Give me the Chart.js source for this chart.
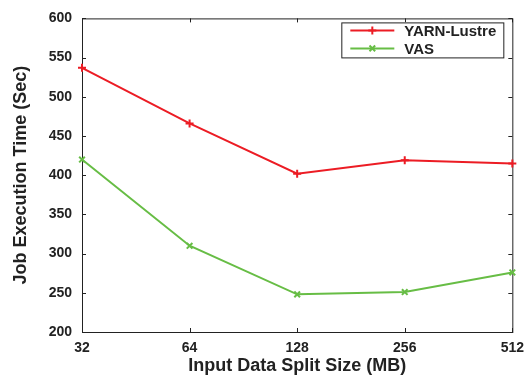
<!DOCTYPE html>
<html>
<head>
<meta charset="utf-8">
<script src="https://cdn.jsdelivr.net/npm/chart.js@4"></script>
<style>
  html, body { margin: 0; padding: 0; background: #fff; }
  #wrap { width: 532px; height: 378px; }
</style>
</head>
<body>
<div id="wrap"><canvas id="chart"></canvas></div>
<script>
// данные
const splitSizes = ['32', '64', '128', '256', '512'];
const yarnLustre = [537, 466, 402, 419, 415];
const vas = [420, 310, 248, 251, 276];
const yTicks = [200, 250, 300, 350, 400, 450, 500, 550, 600];

const INK = '#222';
const RED = '#ec1c24';
const GREEN = '#67bd45';
const FONT = 'Liberation Sans, Arial, Helvetica, sans-serif';

// рамка и засечки внутрь
const framePlugin = {
  id: 'frame',
  beforeDatasetsDraw(chart) {
    const { ctx, chartArea: a, scales } = chart;
    const tl = 4;
    ctx.save();
    ctx.strokeStyle = INK;
    ctx.lineWidth = 1;
    ctx.strokeRect(a.left + 0.5, a.top + 0.5, a.right - a.left, a.bottom - a.top);
    ctx.beginPath();
    yTicks.forEach(v => {
      const y = Math.round(scales.y.getPixelForValue(v)) + 0.5;
      ctx.moveTo(a.left, y); ctx.lineTo(a.left + tl, y);
      ctx.moveTo(a.right, y); ctx.lineTo(a.right - tl, y);
    });
    splitSizes.forEach((s, i) => {
      const x = Math.round(scales.x.getPixelForValue(i)) + 0.5;
      ctx.moveTo(x, a.bottom); ctx.lineTo(x, a.bottom - tl);
      ctx.moveTo(x, a.top); ctx.lineTo(x, a.top + tl);
    });
    ctx.stroke();
    ctx.restore();
  },
};

// легенда внутри графика
const legendPlugin = {
  id: 'boxLegend',
  afterDraw(chart) {
    const { ctx, chartArea: a } = chart;
    const w = 162, h = 35;
    const x0 = a.right - 9 - w, y0 = a.top + 4;
    ctx.save();
    ctx.fillStyle = '#fff';
    ctx.fillRect(x0, y0, w, h);
    ctx.strokeStyle = INK;
    ctx.lineWidth = 1;
    ctx.strokeRect(x0 + 0.5, y0 + 0.5, w, h);
    chart.data.datasets.forEach((ds, i) => {
      const y = y0 + 8 + i * 18;
      ctx.strokeStyle = ds.borderColor;
      ctx.lineWidth = 2;
      ctx.beginPath();
      ctx.moveTo(x0 + 9, y); ctx.lineTo(x0 + 53, y);
      ctx.stroke();
      Chart.helpers.drawPoint(ctx, {
        pointStyle: ds.pointStyle, radius: ds.pointRadius, borderWidth: 2,
      }, x0 + 31, y);
      ctx.fillStyle = INK;
      ctx.font = `bold 15px ${FONT}`;
      ctx.textBaseline = 'middle';
      ctx.fillText(ds.label, x0 + 63, y + 1);
    });
    ctx.restore();
  },
};

new Chart(document.getElementById('chart'), {
  type: 'line',
  data: {
    labels: splitSizes,
    datasets: [
      {
        label: 'YARN-Lustre',
        data: yarnLustre,
        borderColor: RED,
        backgroundColor: RED,
        borderWidth: 2,
        pointStyle: 'cross',
        pointRadius: 4,
        pointBorderWidth: 2,
        tension: 0,
        clip: false,
      },
      {
        label: 'VAS',
        data: vas,
        borderColor: GREEN,
        backgroundColor: GREEN,
        borderWidth: 2,
        pointStyle: 'crossRot',
        pointRadius: 4,
        pointBorderWidth: 2,
        tension: 0,
        clip: false,
      },
    ],
  },
  options: {
    responsive: true,
    maintainAspectRatio: false,
    animation: false,
    layout: { padding: { top: 15, right: 17, left: 0, bottom: 0 } },
    plugins: { legend: { display: false }, tooltip: { enabled: false } },
    scales: {
      x: {
        type: 'category',
        offset: false,
        grid: { display: false, drawTicks: false },
        border: { display: false },
        ticks: { color: INK, padding: 8, font: { family: FONT, size: 14, weight: 'bold' }, maxRotation: 0 },
        title: {
          display: true,
          text: 'Input Data Split Size (MB)',
          color: INK,
          font: { family: FONT, size: 18, weight: 'bold' },
          padding: { top: 0, bottom: 1 },
        },
        afterFit(scale) { scale.height = 46; },
      },
      y: {
        min: 200,
        max: 600,
        grid: { display: false, drawTicks: false },
        border: { display: false },
        afterBuildTicks(scale) { scale.ticks = yTicks.map(v => ({ value: v })); },
        ticks: { color: INK, padding: 10, font: { family: FONT, size: 14, weight: 'bold' } },
        title: {
          display: true,
          text: 'Job Execution Time (Sec)',
          color: INK,
          font: { family: FONT, size: 18, weight: 'bold' },
          padding: { top: 10, bottom: 0 },
        },
        afterFit(scale) { scale.width = 82; },
      },
    },
  },
  plugins: [framePlugin, legendPlugin],
});
</script>
</body>
</html>
